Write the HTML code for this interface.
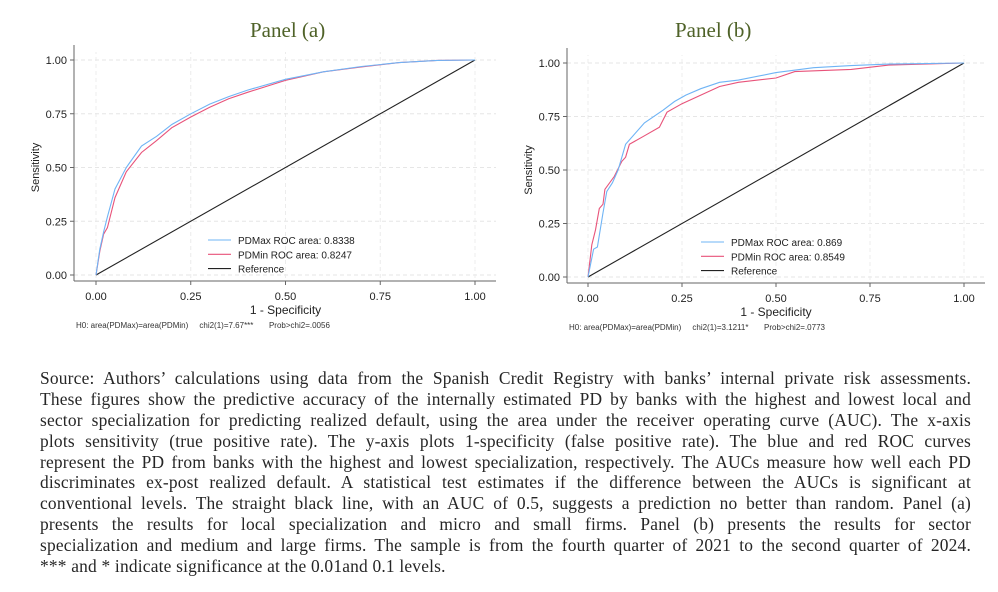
<!DOCTYPE html>
<html><head><meta charset="utf-8"><style>
body{margin:0;width:998px;height:592px;background:#fff;overflow:hidden;position:relative;font-family:"Liberation Sans",sans-serif}
.t{position:absolute;font-family:"Liberation Serif",serif;font-size:21px;color:#4f6228}
.para{position:absolute;left:40px;top:368px;width:931px;font-family:"Liberation Serif",serif;font-size:17.4px;letter-spacing:0.2px;color:#262626}
.para div{height:20.9px;line-height:20.9px;text-align:justify;text-align-last:justify;white-space:nowrap}
.para div.l{text-align-last:left}
</style></head><body>
<div class="t" style="left:250px;top:18px">Panel (a)</div>
<div class="t" style="left:675px;top:18px">Panel (b)</div>
<svg id="s" width="998" height="360" style="position:absolute;left:0;top:0" font-family="Liberation Sans, sans-serif"></svg>
<div class="para">
<div>Source: Authors’ calculations using data from the Spanish Credit Registry with banks’ internal private risk assessments.</div>
<div>These figures show the predictive accuracy of the internally estimated PD by banks with the highest and lowest local and</div>
<div>sector specialization for predicting realized default, using the area under the receiver operating curve (AUC). The x-axis</div>
<div>plots sensitivity (true positive rate). The y-axis plots 1-specificity (false positive rate). The blue and red ROC curves</div>
<div>represent the PD from banks with the highest and lowest specialization, respectively. The AUCs measure how well each PD</div>
<div>discriminates ex-post realized default. A statistical test estimates if the difference between the AUCs is significant at</div>
<div>conventional levels. The straight black line, with an AUC of 0.5, suggests a prediction no better than random. Panel (a)</div>
<div>presents the results for local specialization and micro and small firms. Panel (b) presents the results for sector</div>
<div>specialization and medium and large firms. The sample is from the fourth quarter of 2021 to the second quarter of 2024.</div>
<div class="l">*** and * indicate significance at the 0.01and 0.1 levels.</div>
</div>
<script>
var s=document.getElementById('s'),h='';
function panel(P){
 var X=function(v){return P.x0+(P.x1-P.x0)*v},Y=function(v){return P.y0-(P.y0-P.y1)*v};
 for(var i=0;i<=4;i++){var v=i/4;
  h+='<line x1="'+P.ax+'" x2="'+P.ar+'" y1="'+Y(v)+'" y2="'+Y(v)+'" stroke="#e6e6e6" stroke-dasharray="4,3"/>';
  h+='<line x1="'+X(v)+'" x2="'+X(v)+'" y1="'+(P.ay-3)+'" y2="'+(P.y1-8)+'" stroke="#ececec" stroke-dasharray="4,3"/>';
  h+='<line x1="'+(P.ax-4)+'" x2="'+P.ax+'" y1="'+Y(v)+'" y2="'+Y(v)+'" stroke="#666"/>';
  h+='<line x1="'+X(v)+'" x2="'+X(v)+'" y1="'+P.ay+'" y2="'+(P.ay+4)+'" stroke="#666"/>';
  h+='<text x="'+(P.ax-7)+'" y="'+(Y(v)+4)+'" font-size="11" text-anchor="end" fill="#222">'+v.toFixed(2)+'</text>';
  h+='<text x="'+X(v)+'" y="'+(P.ay+19)+'" font-size="11" text-anchor="middle" fill="#222">'+v.toFixed(2)+'</text>';
 }
 h+='<line x1="'+P.ax+'" x2="'+P.ax+'" y1="'+(P.y1-15)+'" y2="'+P.ay+'" stroke="#666"/>';
 h+='<line x1="'+P.ax+'" x2="'+P.ar+'" y1="'+P.ay+'" y2="'+P.ay+'" stroke="#666"/>';
 h+='<text x="'+(P.ax-35)+'" y="'+((P.y0+P.y1)/2)+'" font-size="11" text-anchor="middle" transform="rotate(-90 '+(P.ax-35)+' '+((P.y0+P.y1)/2)+')" fill="#222">Sensitivity</text>';
 h+='<text x="'+X(0.5)+'" y="'+(P.ay+33)+'" font-size="12" text-anchor="middle" fill="#222">1 - Specificity</text>';
 h+='<text x="'+(P.ax+2)+'" y="'+(P.ay+47)+'" font-size="8" fill="#333" xml:space="preserve">'+P.note+'</text>';
 h+='<line x1="'+X(0)+'" y1="'+Y(0)+'" x2="'+X(1)+'" y2="'+Y(1)+'" stroke="#222" stroke-width="1.1"/>';
 [[P.red,'#e8537a'],[P.blue,'#6fb4f5']].forEach(function(c){
  h+='<polyline fill="none" stroke="'+c[1]+'" stroke-width="1.1" points="'+c[0].map(function(p){return X(p[0]).toFixed(1)+','+Y(p[1]).toFixed(1)}).join(' ')+'"/>';});
 var lx=P.lx,ly=P.ly;
 [['#6fb4f5',P.l1],['#e8537a',P.l2],['#222','Reference']].forEach(function(e,i){
  h+='<line x1="'+lx+'" x2="'+(lx+23)+'" y1="'+(ly+i*14.3)+'" y2="'+(ly+i*14.3)+'" stroke="'+e[0]+'" stroke-width="1.1"/>';
  h+='<text x="'+(lx+30)+'" y="'+(ly+i*14.3+4)+'" font-size="10" fill="#222">'+e[1]+'</text>';});
}
panel({x0:96,x1:475,y0:275,y1:60,ax:74,ay:281,ar:496,lx:208,ly:240,l1:'PDMax ROC area: 0.8338',l2:'PDMin ROC area: 0.8247',
 note:'H0: area(PDMax)=area(PDMin)     chi2(1)=7.67***       Prob&gt;chi2=.0056',
 blue:[[0,0],[0.01,0.12],[0.02,0.2],[0.03,0.27],[0.05,0.4],[0.08,0.5],[0.12,0.6],[0.16,0.645],[0.2,0.7],[0.25,0.75],[0.3,0.795],[0.35,0.83],[0.4,0.86],[0.5,0.91],[0.6,0.945],[0.7,0.97],[0.8,0.988],[0.9,0.998],[1,1]],
 red:[[0,0],[0.01,0.11],[0.02,0.19],[0.03,0.22],[0.05,0.36],[0.08,0.48],[0.12,0.57],[0.16,0.625],[0.2,0.685],[0.25,0.735],[0.3,0.78],[0.35,0.82],[0.4,0.85],[0.5,0.905],[0.6,0.945],[0.7,0.968],[0.8,0.988],[0.9,0.998],[1,1]]});
panel({x0:588,x1:964,y0:277,y1:63,ax:567,ay:283,ar:985,lx:701,ly:242,l1:'PDMax ROC area: 0.869',l2:'PDMin ROC area: 0.8549',
 note:'H0: area(PDMax)=area(PDMin)     chi2(1)=3.1211*       Prob&gt;chi2=.0773',
 blue:[[0,0],[0.015,0.13],[0.025,0.14],[0.04,0.3],[0.05,0.4],[0.065,0.44],[0.08,0.5],[0.1,0.62],[0.15,0.72],[0.2,0.78],[0.23,0.82],[0.26,0.85],[0.3,0.88],[0.35,0.91],[0.4,0.92],[0.5,0.955],[0.6,0.978],[0.7,0.988],[0.8,0.995],[1,1]],
 red:[[0,0],[0.01,0.15],[0.02,0.22],[0.03,0.32],[0.04,0.34],[0.045,0.41],[0.07,0.47],[0.09,0.54],[0.1,0.56],[0.11,0.62],[0.15,0.66],[0.19,0.7],[0.21,0.77],[0.25,0.81],[0.3,0.85],[0.35,0.89],[0.4,0.91],[0.5,0.93],[0.55,0.96],[0.7,0.97],[0.8,0.99],[1,1]]});
s.innerHTML=h;
</script>
</body></html>
